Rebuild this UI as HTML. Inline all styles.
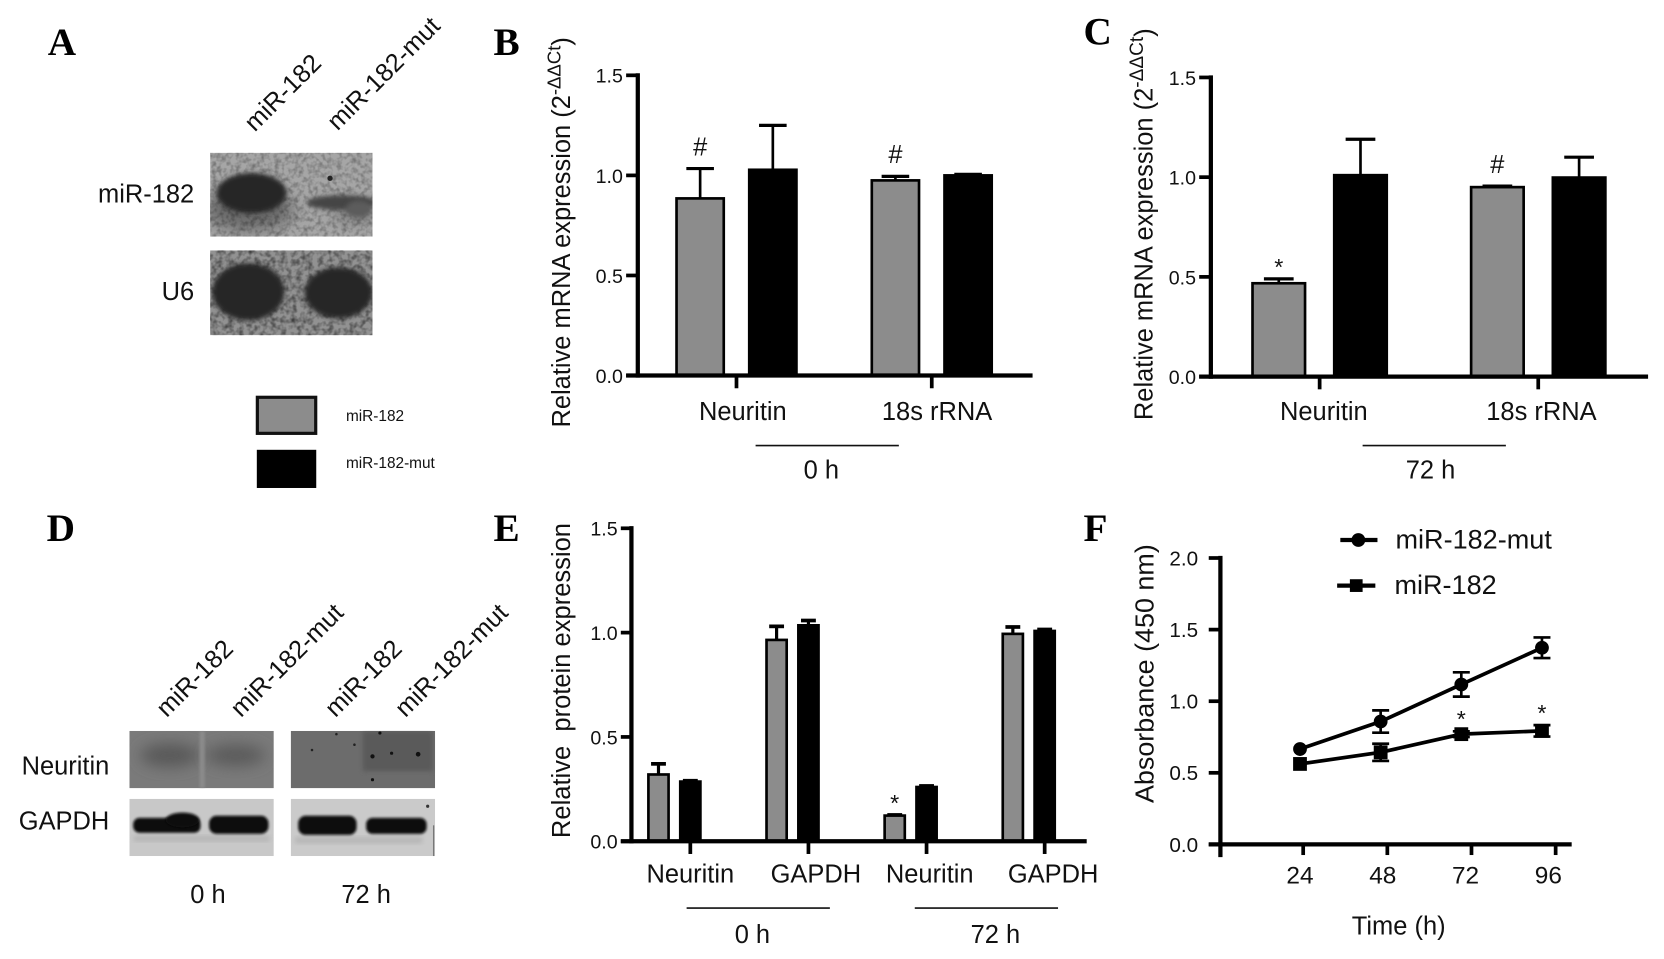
<!DOCTYPE html>
<html lang="en">
<head>
<meta charset="utf-8">
<title>miR-182 Neuritin figure</title>
<style>
html,body{margin:0;padding:0;background:#fff;width:1664px;height:959px;overflow:hidden}
svg{display:block;font-family:"Liberation Sans",sans-serif}
text{fill:#111}
.letter{font-family:"Liberation Serif",serif;font-weight:bold;font-size:37px;fill:#000}
.lbl{font-size:24px}
.blob{fill:#252525;filter:url(#blur3)}
</style>
</head>
<body>
<svg id="fig" xmlns="http://www.w3.org/2000/svg" width="1664" height="959" viewBox="0 0 1568 904" preserveAspectRatio="none">
<defs>
<filter id="grain" x="0" y="0" width="100%" height="100%"><feTurbulence type="fractalNoise" baseFrequency="0.2" numOctaves="2" seed="4"/><feColorMatrix values="0 0 0 0 0  0 0 0 0 0  0 0 0 0 0  1.1 0 0 0 -0.42"/></filter>
<filter id="grainlight" x="0" y="0" width="100%" height="100%"><feTurbulence type="fractalNoise" baseFrequency="0.22" numOctaves="2" seed="9"/><feColorMatrix values="0 0 0 0 0  0 0 0 0 0  0 0 0 0 0  0.7 0 0 0 -0.28"/></filter>
<filter id="blur2" x="-30%" y="-30%" width="160%" height="160%"><feGaussianBlur stdDeviation="1.2"/></filter>
<filter id="blur3" x="-30%" y="-30%" width="160%" height="160%"><feGaussianBlur stdDeviation="2.2"/></filter>
<filter id="blur6" x="-40%" y="-60%" width="180%" height="220%"><feGaussianBlur stdDeviation="7"/></filter>
<clipPath id="clipA1"><rect x="198" y="144" width="153" height="79"/></clipPath>
<clipPath id="clipA2"><rect x="198" y="236" width="153" height="80"/></clipPath>
<clipPath id="clipD1"><rect x="122" y="689" width="136" height="54"/></clipPath>
<clipPath id="clipD2"><rect x="274" y="689" width="136" height="54"/></clipPath>
<clipPath id="clipD3"><rect x="122" y="753" width="136" height="54"/></clipPath>
<clipPath id="clipD4"><rect x="274" y="753" width="136" height="54"/></clipPath>
</defs>
<rect width="1568" height="904" fill="#fff"/>

<text class="letter" x="45" y="52">A</text>
<text class="letter" x="465" y="52">B</text>
<text class="letter" x="1021" y="42">C</text>
<text class="letter" x="44" y="510">D</text>
<text class="letter" x="465" y="510">E</text>
<text class="letter" x="1021" y="510">F</text>

<!-- Panel A -->
<g>
  <text class="lbl" transform="translate(240,125) rotate(-45)">miR-182</text>
  <text class="lbl" transform="translate(318,124) rotate(-45)">miR-182-mut</text>
  <text class="lbl" x="183" y="191" text-anchor="end">miR-182</text>
  <text class="lbl" x="183" y="283" text-anchor="end">U6</text>
  <g clip-path="url(#clipA1)">
    <rect x="198" y="144" width="153" height="79" fill="#a6a6a6"/>
    <ellipse cx="235" cy="198" rx="42" ry="20" fill="#6a6a6a" filter="url(#blur6)"/>
    <ellipse cx="335" cy="200" rx="22" ry="10" fill="#7c7c7c" filter="url(#blur6)"/>
    <rect x="198" y="144" width="153" height="79" filter="url(#grainlight)"/>
    <ellipse cx="237" cy="182" rx="33" ry="19" class="blob"/>
    <ellipse cx="322" cy="191" rx="33" ry="7" fill="#444" filter="url(#blur3)"/>
    <ellipse cx="338" cy="197" rx="12" ry="8" fill="#5c5c5c" filter="url(#blur3)"/>
    <circle cx="311" cy="168" r="2.500" fill="#222"/>
  </g>
  <g clip-path="url(#clipA2)">
    <rect x="198" y="236" width="153" height="80" fill="#929292"/>
    <rect x="198" y="236" width="153" height="80" filter="url(#grain)"/>
    <ellipse cx="234" cy="275" rx="34" ry="27" class="blob"/>
    <ellipse cx="319" cy="276" rx="32" ry="24" class="blob"/>
  </g>
  <rect x="242.500" y="374.500" width="55" height="34" fill="#8c8c8c" stroke="#111" stroke-width="3"/>
  <rect x="242" y="424" width="56" height="36" fill="#000"/>
  <text x="326" y="397" font-size="14.500">miR-182</text>
  <text x="326" y="441" font-size="14.500">miR-182-mut</text>
</g>

<!-- Panel D -->
<g>
  <text class="lbl" transform="translate(157,677) rotate(-45)">miR-182</text>
  <text class="lbl" transform="translate(227,677) rotate(-45)">miR-182-mut</text>
  <text class="lbl" transform="translate(316,677) rotate(-45)">miR-182</text>
  <text class="lbl" transform="translate(382,677) rotate(-45)">miR-182-mut</text>
  <text class="lbl" x="103" y="730" text-anchor="end">Neuritin</text>
  <text class="lbl" x="103" y="782" text-anchor="end">GAPDH</text>
  <g clip-path="url(#clipD1)">
    <rect x="122" y="689" width="136" height="54" fill="#7a7a7a"/>
    <ellipse cx="160" cy="712" rx="28" ry="11" fill="#585858" filter="url(#blur6)"/>
    <ellipse cx="222" cy="712" rx="28" ry="10" fill="#5a5a5a" filter="url(#blur6)"/>
    <rect x="188" y="689" width="5" height="54" fill="#8a8a8a" filter="url(#blur2)"/>
  </g>
  <g clip-path="url(#clipD2)">
    <rect x="274" y="689" width="136" height="54" fill="#6c6c6c"/>
    <rect x="342" y="689" width="66" height="38" fill="#5a5a5a" filter="url(#blur3)"/>
    <circle cx="351" cy="713" r="2" fill="#111"/><circle cx="369" cy="710" r="1.500" fill="#111"/>
    <circle cx="394" cy="711" r="2.200" fill="#111"/><circle cx="351" cy="735" r="1.500" fill="#111"/>
    <circle cx="358" cy="691" r="1.500" fill="#111"/><circle cx="294" cy="707" r="1.200" fill="#222"/>
    <circle cx="317" cy="692" r="1.200" fill="#222"/><circle cx="334" cy="702" r="1.200" fill="#222"/>
  </g>
  <g clip-path="url(#clipD3)">
    <rect x="122" y="753" width="136" height="54" fill="#c8c8c8"/>
    <rect x="126" y="788" width="128" height="5" fill="#b4b4b4" filter="url(#blur3)"/>
    <rect x="125.500" y="771" width="63.500" height="14" rx="6" fill="#0a0a0a" filter="url(#blur2)"/>
    <ellipse cx="172" cy="773" rx="16" ry="7" fill="#0a0a0a" filter="url(#blur2)"/>
    <rect x="197" y="769" width="56" height="17" rx="7" fill="#0a0a0a" filter="url(#blur2)"/>
  </g>
  <g clip-path="url(#clipD4)">
    <rect x="274" y="753" width="136" height="54" fill="#cacaca"/>
    <rect x="278" y="789" width="120" height="6" fill="#b6b6b6" filter="url(#blur3)"/>
    <rect x="281" y="769" width="55" height="18" rx="7" fill="#0a0a0a" filter="url(#blur2)"/>
    <rect x="345" y="771" width="57" height="15" rx="6" fill="#0a0a0a" filter="url(#blur2)"/>
    <circle cx="403" cy="760" r="1.500" fill="#333"/>
    <rect x="408" y="778" width="1.200" height="29" fill="#777"/>
  </g>
  <text class="lbl" x="196" y="851" text-anchor="middle">0 h</text>
  <text class="lbl" x="345" y="851" text-anchor="middle">72 h</text>
</g>

<g id="chart-b">
  <text class="lbl" transform="translate(537,403) rotate(-90)">Relative mRNA expression (2<tspan font-size="17.500" dy="-9">-ΔΔCt</tspan><tspan dy="9">)</tspan></text>
  <line x1="712" y1="420" x2="847" y2="420" stroke="#111" stroke-width="1.500"/>
  <text class="lbl" x="774" y="451" text-anchor="middle">0 h</text>
</g>
<g id="chart-c">
  <text class="lbl" transform="translate(1086,396) rotate(-90)">Relative mRNA expression (2<tspan font-size="18" dy="-9">-ΔΔCt</tspan><tspan dy="9">)</tspan></text>
  <line x1="1284" y1="420" x2="1419" y2="420" stroke="#111" stroke-width="1.500"/>
  <text class="lbl" x="1348" y="451" text-anchor="middle">72 h</text>
</g>
<g id="chart-e">
  <text class="lbl" transform="translate(537,790) rotate(-90)" textLength="297" lengthAdjust="spacingAndGlyphs" xml:space="preserve">Relative  protein expression</text>
  <line x1="647" y1="856" x2="782" y2="856" stroke="#111" stroke-width="1.500"/>
  <line x1="862" y1="856" x2="997" y2="856" stroke="#111" stroke-width="1.500"/>
  <text class="lbl" x="709" y="889" text-anchor="middle">0 h</text>
  <text class="lbl" x="938" y="889" text-anchor="middle">72 h</text>
</g>
<g id="chart-f">
  <text class="lbl" transform="translate(1087,757) rotate(-90)" textLength="244" lengthAdjust="spacingAndGlyphs">Absorbance (450 nm)</text>
  <text class="lbl" x="1318" y="881" text-anchor="middle">Time (h)</text>
  <line x1="1263" y1="509" x2="1298" y2="509" stroke="#000" stroke-width="4"/>
  <circle cx="1280" cy="509" r="6.500" fill="#000"/>
  <text x="1315" y="517" font-size="25.500">miR-182-mut</text>
  <line x1="1260" y1="552" x2="1296" y2="552" stroke="#000" stroke-width="4"/>
  <rect x="1272" y="546" width="12" height="12" fill="#000"/>
  <text x="1314" y="560" font-size="25.500">miR-182</text>
</g>
</svg>

<script>
// Panel B data
const bCategories = ['Neuritin', '18s rRNA'];
const bGrey = [0.885, 0.975];
const bGreyTop = [1.034, 0.995];
const bBlack = [1.028, 1.0];
const bBlackTop = [1.25, 1.005];
const bMarks = ['#', '#'];
// Panel C data
const cCategories = ['Neuritin', '18s rRNA'];
const cGrey = [0.468, 0.95];
const cGreyTop = [0.49, 0.955];
const cBlack = [1.01, 0.998];
const cBlackTop = [1.19, 1.10];
const cMarks = ['*', '#'];
// Panel E data
const eCategories = ['Neuritin', 'GAPDH', 'Neuritin', 'GAPDH'];
const eGrey = [0.32, 0.965, 0.123, 0.994];
const eGreyTop = [0.371, 1.03, 0.126, 1.027];
const eBlack = [0.286, 1.035, 0.26, 1.008];
const eBlackTop = [0.29, 1.058, 0.265, 1.015];
const eMarks = ['', '', '*', ''];
// Shared bar-chart ticks
const barTicks = ['0.0', '0.5', '1.0', '1.5'];
// Panel F data
const fHours = ['24', '48', '72', '96'];
const fYTicks = ['0.0', '0.5', '1.0', '1.5', '2.0'];
const fMut = [0.666, 0.858, 1.117, 1.373];
const fMutErr = [0.0, 0.078, 0.085, 0.072];
const fMir = [0.562, 0.643, 0.77, 0.793];
const fMirErr = [0.0, 0.06, 0.02, 0.04];
const fMarks = ['', '', '*', '*'];

const NS = 'http://www.w3.org/2000/svg';
function mk(parent, tag, attrs, txt) {
  const el = document.createElementNS(NS, tag);
  for (const k in attrs) el.setAttribute(k, attrs[k]);
  if (txt !== undefined) el.textContent = txt;
  parent.appendChild(el);
  return el;
}

function drawBars(id, prefix, g, cats, grey, greyTop, black, blackTop, marks, ticks) {
  const parent = document.getElementById(id);
  const y = v => g.y0 - (v / g.yMax) * (g.y0 - g.yTop);
  const cx = i => g.start + i * g.pitch;

  function bar(i, val, top, fill, xc, kind) {
    const stem = mk(parent, 'line', {x1: xc, x2: xc, y1: y(val), y2: y(top), stroke: '#000', 'stroke-width': g.errW});
    
    
    const cap = mk(parent, 'line', {x1: xc - g.capHalf, x2: xc + g.capHalf, y1: y(top), y2: y(top), stroke: '#000', 'stroke-width': g.capW});
    
    
    const r = mk(parent, 'rect', {x: xc - g.barW / 2 + g.sw / 2, y: y(val), width: g.barW - g.sw, height: g.y0 - y(val), fill: fill, stroke: '#000', 'stroke-width': g.sw});
    
    
  }

  cats.forEach((c, i) => {
    bar(i, grey[i], greyTop[i], '#8c8c8c', cx(i) - g.offset, 'mir-182');
    bar(i, black[i], blackTop[i], '#000', cx(i) + g.offset, 'mir-182-mut');
    const tx = cx(i) + g.tickShift;
    const tk = mk(parent, 'line', {x1: tx, x2: tx, y1: g.y0, y2: g.y0 + 12, stroke: '#000', 'stroke-width': 3.5});
    
    
    const lab = mk(parent, 'text', {x: tx + g.labelDx[i], y: g.labelY, 'text-anchor': 'middle', 'font-size': 24}, c);
    
    
    if (marks[i]) {
      const isStar = marks[i] === '*';
      const mk1 = mk(parent, 'text', {x: cx(i) - g.offset, y: y(greyTop[i]) - (isStar ? 3.5 : 12.5), 'text-anchor': 'middle', 'font-size': isStar ? 22 : 24}, marks[i]);
      
      
    }
  });

  const yAxis = mk(parent, 'line', {x1: g.axisX, x2: g.axisX, y1: g.yTop - 2, y2: g.y0 + 2, stroke: '#000', 'stroke-width': 4});
  
  
  const xAxis = mk(parent, 'line', {x1: g.axisX - g.tickLen, x2: g.xEnd, y1: g.y0, y2: g.y0, stroke: '#000', 'stroke-width': 4});
  
  
  ticks.forEach((t, i) => {
    const v = parseFloat(t);
    const tl = mk(parent, 'line', {x1: g.axisX - g.tickLen, x2: g.axisX, y1: y(v), y2: y(v), stroke: '#000', 'stroke-width': 3.5});
    
    
    const lb = mk(parent, 'text', {x: g.axisX - g.tickLen - 3, y: y(v) + 7, 'text-anchor': 'end', 'font-size': 18.5}, t);
    
    
  });
}

drawBars('chart-b', 'panel-b', {y0: 354, yTop: 71, yMax: 1.5, axisX: 601, xEnd: 973, tickLen: 11, start: 694, pitch: 184, offset: 34.25, barW: 47, sw: 2.5, errW: 2.5, capW: 3, capHalf: 13, tickShift: 0, labelDx: [6, 5], labelY: 396},
  bCategories, bGrey, bGreyTop, bBlack, bBlackTop, bMarks, barTicks);
drawBars('chart-c', 'panel-c', {y0: 355, yTop: 73, yMax: 1.5, axisX: 1141, xEnd: 1553, tickLen: 11, start: 1243.5, pitch: 206, offset: 38.5, barW: 52, sw: 2.5, errW: 2.5, capW: 3, capHalf: 14, tickShift: 0, labelDx: [4, 3], labelY: 396},
  cCategories, cGrey, cGreyTop, cBlack, cBlackTop, cMarks, barTicks);
drawBars('chart-e', 'panel-e', {y0: 793, yTop: 498, yMax: 1.5, axisX: 595, xEnd: 1024, tickLen: 10, start: 635.5, pitch: 111.3, offset: 15, barW: 21.5, sw: 2.5, errW: 3, capW: 3.5, capHalf: 7, tickShift: 15, labelDx: [0, 7, 3, 8], labelY: 832},
  eCategories, eGrey, eGreyTop, eBlack, eBlackTop, eMarks, barTicks);

// Panel F
(function () {
  const parent = document.getElementById('chart-f');
  const y0 = 796, yTop = 526, yMax = 2, axisX = 1150, xEnd = 1481;
  const y = v => y0 - (v / yMax) * (y0 - yTop);
  const pointX = h => 1225 + (h - 24) * (76 / 24);
  const tickX = h => 1228 + (h - 24) * (79.3 / 24);
  const labelX = h => 1225 + (h - 24) * (78 / 24);

  function series(vals, errs, kind) {
    const pts = vals.map((v, i) => pointX(+fHours[i]) + ',' + y(v)).join(' ');
    const pl = mk(parent, 'polyline', {points: pts, fill: 'none', stroke: '#000', 'stroke-width': 3.5});
    
    
    vals.forEach((v, i) => {
      const x = pointX(+fHours[i]);
      if (errs[i] > 0) {
        const eb = mk(parent, 'path', {d: 'M' + (x - 8) + ' ' + y(v + errs[i]) + 'H' + (x + 8) + 'M' + x + ' ' + y(v + errs[i]) + 'V' + y(v - errs[i]) + 'M' + (x - 8) + ' ' + y(v - errs[i]) + 'H' + (x + 8), fill: 'none', stroke: '#000', 'stroke-width': 2.5});
        
        
      }
      let m;
      if (kind === 'mir-182-mut') {
        m = mk(parent, 'circle', {cx: x, cy: y(v), r: 6.5, fill: '#000'});
      } else {
        m = mk(parent, 'rect', {x: x - 6.5, y: y(v) - 6.5, width: 13, height: 13, fill: '#000'});
      }
      
      
    });
  }
  series(fMut, fMutErr, 'mir-182-mut');
  series(fMir, fMirErr, 'mir-182');

  fMarks.forEach((s, i) => {
    if (!s) return;
    const st = mk(parent, 'text', {x: pointX(+fHours[i]), y: y(fMir[i] + fMirErr[i]) - 4, 'text-anchor': 'middle', 'font-size': 22}, s);
    
    
  });

  const ya = mk(parent, 'line', {x1: axisX, x2: axisX, y1: yTop - 2, y2: y0 + 12, stroke: '#000', 'stroke-width': 4});
  
  
  const xa = mk(parent, 'line', {x1: axisX - 11, x2: xEnd, y1: y0, y2: y0, stroke: '#000', 'stroke-width': 4});
  
  
  fYTicks.forEach(t => {
    const v = parseFloat(t);
    const tk = mk(parent, 'line', {x1: axisX - 11, x2: axisX, y1: y(v), y2: y(v), stroke: '#000', 'stroke-width': 3.5});
    
    
    const lb = mk(parent, 'text', {x: axisX - 21, y: y(v) + 7, 'text-anchor': 'end', 'font-size': 19.5}, t);
    
    
  });
  fHours.forEach(h => {
    const x = tickX(+h);
    const tk = mk(parent, 'line', {x1: x, x2: x, y1: y0, y2: y0 + 10, stroke: '#000', 'stroke-width': 3.5});
    
    
    const lb = mk(parent, 'text', {x: labelX(+h), y: 833, 'text-anchor': 'middle', 'font-size': 23}, h);
    
    
  });
})();
</script>
</body>
</html>
